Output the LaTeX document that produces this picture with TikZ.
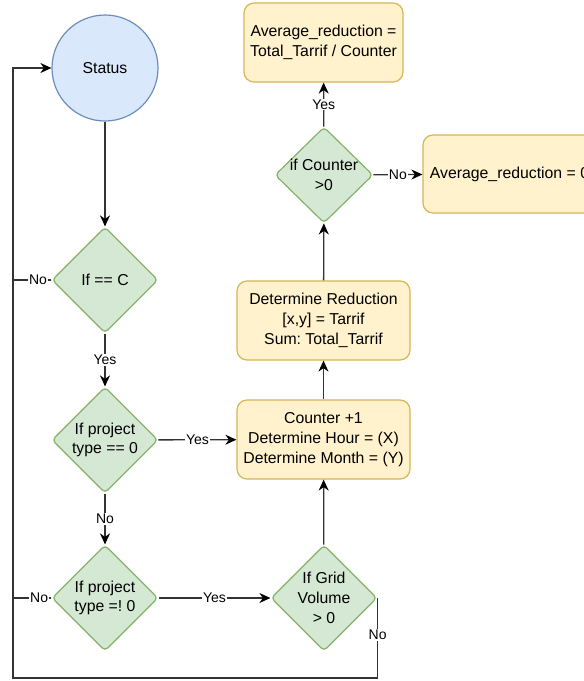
\documentclass[tikz,border=0pt]{standalone}
\usepackage{fontspec}
\setmainfont{Liberation Sans}
\usetikzlibrary{shapes.geometric,arrows.meta}
\definecolor{bluefill}{HTML}{DAE8FC}
\definecolor{bluedraw}{HTML}{6C8EBF}
\definecolor{greenfill}{HTML}{D5E8D4}
\definecolor{greendraw}{HTML}{82B366}
\definecolor{yellowfill}{HTML}{FFF2CC}
\definecolor{yellowdraw}{HTML}{D6B656}
\definecolor{edgecol}{HTML}{333333}
\frenchspacing
\begin{document}
\begin{tikzpicture}[x=1pt,y=-1pt,
  boxfont/.style={font=\fontsize{15.8}{19.8}\selectfont},
  startnode/.style={circle,draw=bluedraw,fill=bluefill,line width=1.2pt,
    minimum size=106pt,inner sep=0pt,boxfont},
  decision/.style={diamond,draw=greendraw,fill=greenfill,line width=1.2pt,
    minimum width=106pt,minimum height=106pt,inner sep=0pt,aspect=1,
    rounded corners=4pt},
  dtext/.style={align=center,inner sep=0pt,boxfont},
  process/.style={rectangle,rounded corners=10pt,draw=yellowdraw,fill=yellowfill,
    line width=1.2pt,minimum width=173pt,minimum height=79pt,align=center,
    inner sep=2pt,boxfont},
  edge/.style={draw=edgecol,line width=1.3pt,
    -{Stealth[length=11pt,width=10pt,inset=3.5pt,color=black]}},
  plain/.style={draw=edgecol,line width=1.3pt},
  lbl/.style={fill=white,inner sep=1pt,text=black,
    font=\fontsize{14}{16}\selectfont}]
\useasboundingbox (0,0) rectangle (584,681);
\clip (0,0) rectangle (584,681);

% start
\node[startnode] (status) at (105,68) {Status};

% decisions on the left column
\node[decision] (d1) at (105,280) {};
\node[dtext] (t1) at (d1) {If == C};
\node[decision] (d2) at (105,440) {};
\node[dtext] (t2) at (d2) {If project\\type == 0};
\node[decision] (d3) at (105,598) {};
\node[dtext] (t3) at (d3) {If project\\type =! 0};
\node[decision] (d4) at (324,598) {};
\node[dtext] (t4) at (d4) {If Grid\\Volume\\> 0};

% processing column
\node[process] (p1) at (323.5,439.5) {Counter +1\\Determine Hour = (X)\\Determine Month = (Y)};
\node[process] (p2) at (323.5,320.5) {Determine Reduction\\{[x,y]} = Tarrif\\Sum: Total\_Tarrif};
\node[decision,minimum width=98pt,minimum height=96pt] (d5) at (324,175) {};
\node[dtext] (t5) at (d5) {if Counter\\>0};
\node[process,minimum width=159pt] (p3) at (323.5,42.5) {Average\_reduction =\\Total\_Tarrif / Counter};
\node[process,minimum height=78pt] (p4) at (509.5,174) {Average\_reduction = 0};

% connectors
\draw[edge] (status) -- (d1);
\draw[edge] (d1) -- node[lbl] {Yes} (d2);
\draw[edge] (d2) -- node[lbl] {No} (d3);
\draw[edge] (d2) -- node[lbl] {Yes} (p1);
\draw[edge] (d3) -- node[lbl] {Yes} (d4);
\draw[edge] (d4) -- (p1);
\draw[edge] (p1) -- (p2);
\draw[edge] (p2) -- (d5);
\draw[edge] (d5) -- node[lbl] {No} (p4);
\draw[edge] (d5) -- node[lbl] {Yes} (p3);

% return loop to the start
\coordinate (loopbl) at (13,678);
\draw[edge] (d4.east) |- node[lbl,pos=0.23] {No} (loopbl) |- (status.west);
\draw[plain] (d1.west) -- node[lbl,pos=0.35] {No} (d1.west -| loopbl);
\draw[plain] (d3.west) -- node[lbl,pos=0.32] {No} (d3.west -| loopbl);
\end{tikzpicture}
\end{document}
